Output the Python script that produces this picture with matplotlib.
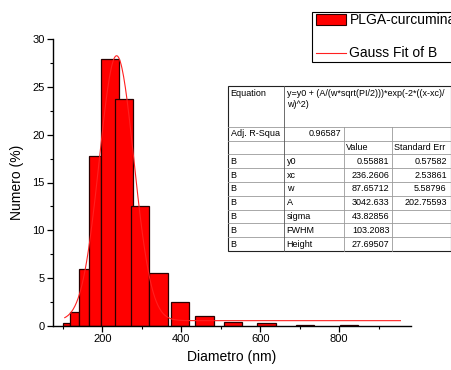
import numpy as np
import matplotlib.pyplot as plt
from matplotlib.patches import Rectangle
from matplotlib.lines import Line2D

plt.rcParams['font.family'] = ['Liberation Sans', 'DejaVu Sans']

# Histogram bars (left edge, right edge, height)
bar_left = [100, 118, 142, 167, 198, 233, 274, 319, 374, 436, 509, 592, 690, 803]
bar_right = [118, 142, 167, 198, 243, 278, 319, 366, 420, 483, 554, 639, 736, 848]
bar_height = [0.28, 1.43, 6.0, 17.8, 27.9, 23.7, 12.5, 5.57, 2.48, 1.08, 0.45, 0.3, 0.1, 0.1]

# Gauss fit parameters (from the table)
y0 = 0.55881
xc = 236.2606
w = 87.65712
A = 3042.633
fit_start, fit_end = 105, 955

legend_labels = ['PLGA-curcumina', 'Gauss Fit of B']

equation = 'y=y0 + (A/(w*sqrt(PI/2)))*exp(-2*((x-xc)/\nw)^2)'
adj_r2 = '0.96587'
param_names = ['y0', 'xc', 'w', 'A', 'sigma', 'FWHM', 'Height']
param_values = ['0.55881', '236.2606', '87.65712', '3042.633', '43.82856', '103.2083', '27.69507']
param_errors = ['0.57582', '2.53861', '5.58796', '202.75593', '', '', '']

W, H = 452, 370
fig = plt.figure(figsize=(W / 100, H / 100), dpi=100)
ax = fig.add_axes([53.3 / W, 1 - 326 / H, (410.7 - 53.3) / W, (326 - 39) / H])

left = np.array(bar_left, dtype=float)
right = np.array(bar_right, dtype=float)
ax.bar(left, bar_height, width=right - left, align='edge', color='#ff0000',
       edgecolor='#2a0000', linewidth=0.9, zorder=2)

xs = np.linspace(fit_start, fit_end, 400)
ys = y0 + (A / (w * np.sqrt(np.pi / 2))) * np.exp(-2 * ((xs - xc) / w) ** 2)
ax.plot(xs, ys, color='#ff2020', linewidth=0.8, zorder=3)

ax.set_xlim(76, 981)
ax.set_ylim(0, 30)
ax.set_xticks([200, 400, 600, 800])
ax.set_xticks([100, 300, 500, 700, 900], minor=True)
ax.set_yticks([0, 5, 10, 15, 20, 25, 30])
ax.set_yticks(np.arange(2.5, 30, 5), minor=True)
ax.tick_params(which='major', direction='out', length=4, width=0.9, labelsize=8, pad=2)
ax.tick_params(which='minor', direction='out', length=2.5, width=0.8)
for s in ['top', 'right']:
    ax.spines[s].set_visible(False)
for s in ['left', 'bottom']:
    ax.spines[s].set_linewidth(1.0)
ax.set_xlabel('Diametro (nm)', fontsize=10, labelpad=4)
ax.set_ylabel('Numero (%)', fontsize=10, labelpad=6)

# overlay in pixel coordinates for legend and table
ov = fig.add_axes([0, 0, 1, 1], zorder=5)
ov.set_xlim(0, W)
ov.set_ylim(H, 0)
ov.axis('off')

# legend box
ov.add_patch(Rectangle((312, 12), 160, 50, facecolor='white', edgecolor='black', linewidth=0.8))
ov.add_patch(Rectangle((315.7, 14.3), 30, 11, facecolor='#ff0000', edgecolor='#2a0000', linewidth=0.8))
ov.add_line(Line2D([315.7, 345.7], [53, 53], color='#ff2020', linewidth=0.8))
ov.text(349.5, 20, legend_labels[0], fontsize=10, va='center', ha='left')
ov.text(349.5, 53, legend_labels[1], fontsize=10, va='center', ha='left')

# fit table
cols = [228.3, 284.3, 344, 391.7, 451]
rows = [86, 126.7, 140.7, 154.3, 168, 182, 195.7, 209.7, 223.3, 237.3, 251]
ov.add_patch(Rectangle((cols[0], rows[0]), cols[-1] - cols[0], rows[-1] - rows[0],
                       facecolor='white', edgecolor='none'))
grid_c = '#9a9a9a'
for y in rows[1:-1]:
    ov.add_line(Line2D([cols[0], cols[-1]], [y, y], color=grid_c, linewidth=0.6))
ov.add_line(Line2D([cols[1], cols[1]], [rows[0], rows[-1]], color='#555555', linewidth=0.6))
for x in cols[2:4]:
    ov.add_line(Line2D([x, x], [rows[1], rows[-1]], color=grid_c, linewidth=0.6))
ov.add_patch(Rectangle((cols[0], rows[0]), cols[-1] - cols[0], rows[-1] - rows[0],
                       facecolor='none', edgecolor='#222222', linewidth=0.8))

fs = 6.5
ov.text(cols[0] + 2.4, rows[0] + 8, 'Equation', fontsize=fs, va='center')
ov.text(cols[1] + 2.4, rows[0] + 3.5, equation, fontsize=fs, va='top', linespacing=1.15)

def mid(i):
    return (rows[i] + rows[i + 1]) / 2

ov.text(cols[0] + 2.4, mid(1), 'Adj. R-Squa', fontsize=fs, va='center')
ov.text(cols[2] - 2.3, mid(1), adj_r2, fontsize=fs, va='center', ha='right')
ov.text(cols[2] + 2.4, mid(2), 'Value', fontsize=fs, va='center')
ov.text(cols[3] + 2.4, mid(2), 'Standard Err', fontsize=fs, va='center')
for i, (n, v, e) in enumerate(zip(param_names, param_values, param_errors)):
    r = 3 + i
    ov.text(cols[0] + 2.4, mid(r), 'B', fontsize=fs, va='center')
    ov.text(cols[1] + 2.4, mid(r), n, fontsize=fs, va='center')
    ov.text(cols[3] - 2.3, mid(r), v, fontsize=fs, va='center', ha='right')
    if e:
        ov.text(cols[4] - 4.3, mid(r), e, fontsize=fs, va='center', ha='right')

fig.savefig('out.png', dpi=100)
